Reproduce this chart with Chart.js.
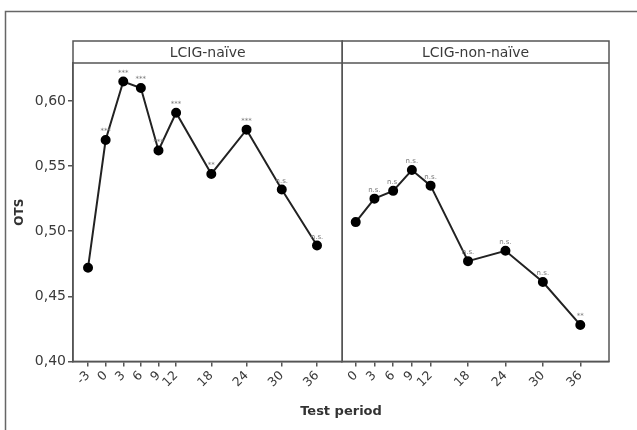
<!DOCTYPE html>
<html>
<head>
<meta charset="utf-8">
<script src="https://cdn.jsdelivr.net/npm/chart.js@4/dist/chart.umd.min.js"></script>
<style>
    html, body { margin: 0; padding: 0; background: #fff; }
    #wrap { width: 637px; height: 430px; }
</style>
</head>
<body>
<div id="wrap"><canvas id="chart" width="637" height="430"></canvas></div>
<script>
// panel titles
const panelTitles = ['LCIG-naïve', 'LCIG-non-naïve'];

// test periods (months) and mean OTS per panel
const naivePeriods = [-3, 0, 3, 6, 9, 12, 18, 24, 30, 36];
const naiveOts = [0.472, 0.570, 0.615, 0.610, 0.562, 0.591, 0.544, 0.578, 0.532, 0.489];
const naiveSig = ['', '***', '***', '***', '***', '***', '**', '***', 'n.s.', 'n.s.'];

const nonNaivePeriods = [0, 3, 6, 9, 12, 18, 24, 30, 36];
const nonNaiveOts = [0.507, 0.525, 0.531, 0.547, 0.535, 0.477, 0.485, 0.461, 0.428];
const nonNaiveSig = ['', 'n.s.', 'n.s.', 'n.s.', 'n.s.', 'n.s.', 'n.s.', 'n.s.', '**'];

// tick labels
const naiveTicks = [-3, 0, 3, 6, 9, 12, 18, 24, 30, 36];
const nonNaiveTicks = [0, 3, 6, 9, 12, 18, 24, 30, 36];
const otsTicks = [0.40, 0.45, 0.50, 0.55, 0.60];

const axisColor = '#555';
const textColor = '#3a3a3a';
const HEADER_H = 22;

function toPoints(xs, ys) {
    return xs.map((x, i) => ({ x, y: ys[i] }));
}

function xAxis(min, max, ticks, weight) {
    return {
        type: 'linear',
        position: 'bottom',
        stack: 'panels',
        stackWeight: weight,
        min,
        max,
        afterBuildTicks: (scale) => {
            scale.ticks = ticks.map((v) => ({ value: v }));
        },
        afterFit: (scale) => {
            scale.height = 38;
        },
        grid: {
            drawOnChartArea: false,
            drawTicks: true,
            tickLength: 5,
            color: axisColor,
            lineWidth: 1.5,
        },
        border: { display: true, color: axisColor, width: 1.5 },
        ticks: {
            autoSkip: false,
            minRotation: 45,
            maxRotation: 45,
            padding: 2,
            color: textColor,
            font: { family: 'DejaVu Sans', size: 12.5 },
        },
    };
}

const framePlugin = {
    id: 'framePlugin',
    beforeDraw(chart) {
        const { ctx, width, height } = chart;
        ctx.save();
        ctx.fillStyle = '#fff';
        ctx.fillRect(0, 0, width, height);

        // outer figure frame (top and left edges)
        ctx.strokeStyle = '#666';
        ctx.lineWidth = 1.5;
        ctx.beginPath();
        ctx.moveTo(5.5, height);
        ctx.lineTo(5.5, 11.5);
        ctx.lineTo(width, 11.5);
        ctx.stroke();
        ctx.restore();
    },
    afterDraw(chart) {
        const { ctx, chartArea } = chart;
        const panels = [chart.scales.x, chart.scales.x2];
        const top = chartArea.top - HEADER_H;

        ctx.save();
        ctx.strokeStyle = axisColor;
        ctx.lineWidth = 1.5;
        panels.forEach((scale, i) => {
            ctx.strokeRect(scale.left, top, scale.right - scale.left, chartArea.bottom - top);
            ctx.beginPath();
            ctx.moveTo(scale.left, chartArea.top);
            ctx.lineTo(scale.right, chartArea.top);
            ctx.stroke();

            ctx.fillStyle = textColor;
            ctx.font = '14px "DejaVu Sans"';
            ctx.textAlign = 'center';
            ctx.textBaseline = 'middle';
            ctx.fillText(panelTitles[i], (scale.left + scale.right) / 2, top + HEADER_H / 2 + 1);
        });
        ctx.restore();
    },
    afterDatasetsDraw(chart) {
        const { ctx } = chart;
        const sigs = [naiveSig, nonNaiveSig];
        ctx.save();
        ctx.fillStyle = '#777';
        ctx.font = '7px "DejaVu Sans"';
        ctx.textAlign = 'center';
        ctx.textBaseline = 'bottom';
        sigs.forEach((labels, d) => {
            chart.getDatasetMeta(d).data.forEach((pt, i) => {
                if (labels[i]) {
                    ctx.fillText(labels[i], pt.x, pt.y - 5);
                }
            });
        });
        ctx.restore();
    },
};

const lineStyle = {
    showLine: true,
    borderColor: '#222',
    borderWidth: 2,
    backgroundColor: '#000',
    pointBackgroundColor: '#000',
    pointBorderColor: '#000',
    pointRadius: 4,
    pointHoverRadius: 4,
    tension: 0,
};

new Chart(document.getElementById('chart'), {
    type: 'scatter',
    data: {
        datasets: [
            { ...lineStyle, label: panelTitles[0], data: toPoints(naivePeriods, naiveOts), xAxisID: 'x', yAxisID: 'y' },
            { ...lineStyle, label: panelTitles[1], data: toPoints(nonNaivePeriods, nonNaiveOts), xAxisID: 'x2', yAxisID: 'y' },
        ],
    },
    options: {
        responsive: false,
        animation: false,
        layout: {
            padding: { top: 63, right: 28, bottom: 7, left: 0 },
        },
        plugins: {
            legend: { display: false },
            tooltip: { enabled: false },
            title: {
                display: true,
                position: 'bottom',
                fullSize: false,
                text: 'Test period',
                color: '#333',
                font: { family: 'DejaVu Sans', size: 13, weight: 'bold' },
                padding: { top: 4, bottom: 4 },
            },
        },
        scales: {
            x: xAxis(-5.56, 40.3, naiveTicks, 269.5),
            x2: xAxis(-2.16, 40.6, nonNaiveTicks, 267),
            y: {
                type: 'linear',
                position: 'left',
                min: 0.40,
                max: 0.6292,
                afterBuildTicks: (scale) => {
                    scale.ticks = otsTicks.map((v) => ({ value: v }));
                },
                afterFit: (scale) => {
                    scale.width = 73;
                },
                grid: {
                    drawOnChartArea: false,
                    drawTicks: true,
                    tickLength: 5,
                    color: axisColor,
                    lineWidth: 1.5,
                },
                border: { display: true, color: axisColor, width: 1.5 },
                ticks: {
                    padding: 2,
                    color: textColor,
                    font: { family: 'DejaVu Sans', size: 14 },
                    callback: (v) => v.toFixed(2).replace('.', ','),
                },
                title: {
                    display: true,
                    text: 'OTS',
                    color: '#333',
                    font: { family: 'DejaVu Sans', size: 12, weight: 'bold' },
                    padding: { top: 13, bottom: 0 },
                },
            },
        },
    },
    plugins: [framePlugin],
});
</script>
</body>
</html>
